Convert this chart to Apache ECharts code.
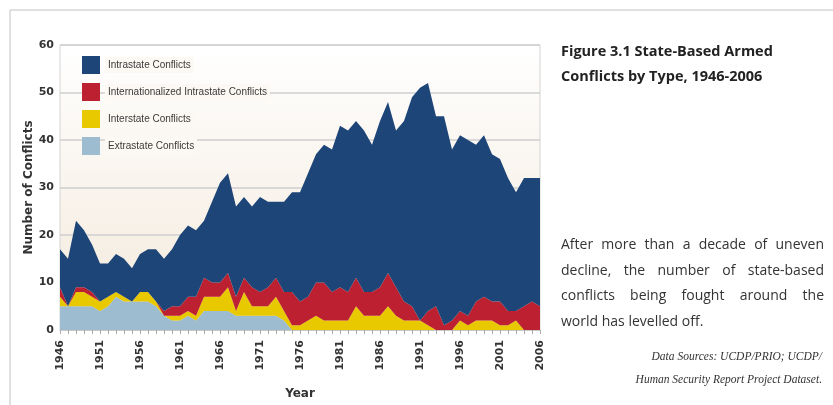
<!DOCTYPE html>
<html>
<head>
<meta charset="utf-8">
<script src="https://cdn.jsdelivr.net/npm/echarts@6/dist/echarts.min.js"></script>
<style>
  html, body { margin: 0; padding: 0; background: #fff; }
  #main { width: 833px; height: 405px; }
</style>
</head>
<body>
<div id="main"></div>
<script>
var years = ['1946','1947','1948','1949','1950','1951','1952','1953','1954','1955',
  '1956','1957','1958','1959','1960','1961','1962','1963','1964','1965',
  '1966','1967','1968','1969','1970','1971','1972','1973','1974','1975',
  '1976','1977','1978','1979','1980','1981','1982','1983','1984','1985',
  '1986','1987','1988','1989','1990','1991','1992','1993','1994','1995',
  '1996','1997','1998','1999','2000','2001','2002','2003','2004','2005','2006'];

// bottom layer first (stack order)
var extrastate = [5,5,5,5,5,4,5,7,6,6, 6,6,5,3,2,2,3,2,4,4,
  4,4,3,3,3,3,3,3,2,0, 0,0,0,0,0,0,0,0,0,0,
  0,0,0,0,0,0,0,0,0,0, 0,0,0,0,0,0,0,0,0,0,0];
var interstate = [2,0,3,3,2,2,2,1,1,0, 2,2,1,0,1,1,1,1,3,3,
  3,5,1,5,2,2,2,4,2,1, 1,2,3,2,2,2,2,5,3,3,
  3,5,3,2,2,2,1,0,0,0, 2,1,2,2,2,1,1,2,0,0,0];
var internationalized = [2,0,1,1,1,0,0,0,0,0, 0,0,0,1,2,2,3,4,4,3,
  3,3,3,3,4,3,4,4,4,7, 5,5,7,8,6,7,6,6,5,5,
  6,7,6,4,3,0,3,5,1,2, 2,2,4,5,4,5,3,2,5,6,5];
var intrastate = [8,10,14,12,10,8,7,8,8,7, 8,9,11,11,12,15,15,14,12,17,
  21,21,19,17,17,20,18,16,19,21, 23,26,27,29,30,34,34,33,34,31,
  35,36,33,38,44,49,48,40,44,36, 37,37,33,34,31,30,28,25,27,26,27];

var seriesNames = ['Intrastate Conflicts', 'Internationalized Intrastate Conflicts',
  'Interstate Conflicts', 'Extrastate Conflicts'];
var colors = ['#1d4577', '#bd2131', '#e8c900', '#9dbcd0'];

var chart = echarts.init(document.getElementById('main'));

function layer(name, data, color) {
  return {
    name: name,
    type: 'line',
    stack: 'all',
    data: data,
    symbol: 'none',
    lineStyle: { width: 0 },
    itemStyle: { color: color },
    areaStyle: { color: color, opacity: 1 },
    emphasis: { disabled: true }
  };
}

// right-hand text, justified word by word
var measure = document.createElement('canvas').getContext('2d');
var bodyFont = '14px "Open Sans"';
function textLine(str, x, y, width, font, justify) {
  if (!justify) {
    return [{ type: 'text', x: x, y: y, style: { text: str, font: font, fill: '#333', textVerticalAlign: 'middle' } }];
  }
  measure.font = font;
  var words = str.split(' ');
  var sum = 0;
  for (var i = 0; i < words.length; i++) sum += measure.measureText(words[i]).width;
  var gap = (width - sum) / (words.length - 1);
  var out = [];
  var cx = x;
  for (var j = 0; j < words.length; j++) {
    out.push({ type: 'text', x: cx, y: y, style: { text: words[j], font: font, fill: '#333', textVerticalAlign: 'middle' } });
    cx += measure.measureText(words[j]).width + gap;
  }
  return out;
}

var bodyLines = ['After more than a decade of uneven', 'decline, the number of state-based',
  'conflicts being fought around the', 'world has levelled off.'];
var graphics = [
  { type: 'line', shape: { x1: 10, y1: 10, x2: 833, y2: 10 }, style: { stroke: '#d6d6d6', lineWidth: 1.5 } },
  { type: 'line', shape: { x1: 10, y1: 10, x2: 10, y2: 405 }, style: { stroke: '#d6d6d6', lineWidth: 1.5 } },
  { type: 'text', x: 561, y: 52, style: { text: 'Figure 3.1 State-Based Armed', font: 'bold 14.5px "Open Sans"', fill: '#222', textVerticalAlign: 'middle' } },
  { type: 'text', x: 561, y: 77, style: { text: 'Conflicts by Type, 1946-2006', font: 'bold 14.5px "Open Sans"', fill: '#222', textVerticalAlign: 'middle' } },
  { type: 'text', x: 822, y: 357, style: { text: 'Data Sources: UCDP/PRIO; UCDP/', font: 'italic 11.5px "Liberation Serif"', fill: '#333', textAlign: 'right', textVerticalAlign: 'middle' } },
  { type: 'text', x: 822, y: 380, style: { text: 'Human Security Report Project Dataset.', font: 'italic 11.5px "Liberation Serif"', fill: '#333', textAlign: 'right', textVerticalAlign: 'middle' } }
];
for (var k = 0; k < bodyLines.length; k++) {
  graphics = graphics.concat(textLine(bodyLines[k], 561, 245 + k * 25.7, 263, bodyFont, k < bodyLines.length - 1));
}

var option = {
  animation: false,
  color: colors,
  grid: {
    left: 60,
    right: 293,
    top: 45,
    bottom: 75,
    show: true,
    borderColor: '#d4d4d4',
    borderWidth: 1,
    backgroundColor: new echarts.graphic.LinearGradient(0, 0, 0, 1, [
      { offset: 0, color: '#ffffff' },
      { offset: 1, color: '#f3e9db' }
    ])
  },
  legend: {
    orient: 'vertical',
    left: 82,
    top: 56,
    padding: 0,
    itemWidth: 18,
    itemHeight: 18,
    itemGap: 9,
    icon: 'rect',
    data: seriesNames,
    textStyle: {
      fontFamily: 'Liberation Sans',
      fontSize: 10,
      color: '#3a3a3a',
      backgroundColor: '#fcf9f4',
      padding: [3, 3]
    }
  },
  xAxis: {
    type: 'category',
    data: years,
    boundaryGap: false,
    name: 'Year',
    nameLocation: 'middle',
    nameGap: 58,
    nameTextStyle: { fontFamily: 'DejaVu Sans', fontWeight: 'bold', fontSize: 12, color: '#333' },
    axisLine: { lineStyle: { color: '#c8c8c8' } },
    axisTick: { interval: 0, length: 4, lineStyle: { color: '#aaa' } },
    axisLabel: {
      interval: 4,
      rotate: 90,
      margin: 10,
      fontFamily: 'DejaVu Sans',
      fontWeight: 'bold',
      fontSize: 11,
      color: '#333'
    },
    splitLine: { show: false }
  },
  yAxis: {
    type: 'value',
    min: 0,
    max: 60,
    interval: 10,
    name: 'Number of Conflicts',
    nameLocation: 'middle',
    nameGap: 25,
    nameMoveOverlap: false,
    nameTextStyle: { fontFamily: 'DejaVu Sans', fontWeight: 'bold', fontSize: 12, color: '#333' },
    axisLine: { show: false },
    axisTick: { show: false },
    axisLabel: { fontFamily: 'DejaVu Sans', fontWeight: 'bold', fontSize: 11, color: '#333', margin: 6 },
    splitLine: { lineStyle: { color: '#cfcfcf', width: 1.5 } }
  },
  series: [
    layer(seriesNames[3], extrastate, colors[3]),
    layer(seriesNames[2], interstate, colors[2]),
    layer(seriesNames[1], internationalized, colors[1]),
    layer(seriesNames[0], intrastate, colors[0])
  ],
  graphic: graphics
};

chart.setOption(option);
</script>
</body>
</html>
